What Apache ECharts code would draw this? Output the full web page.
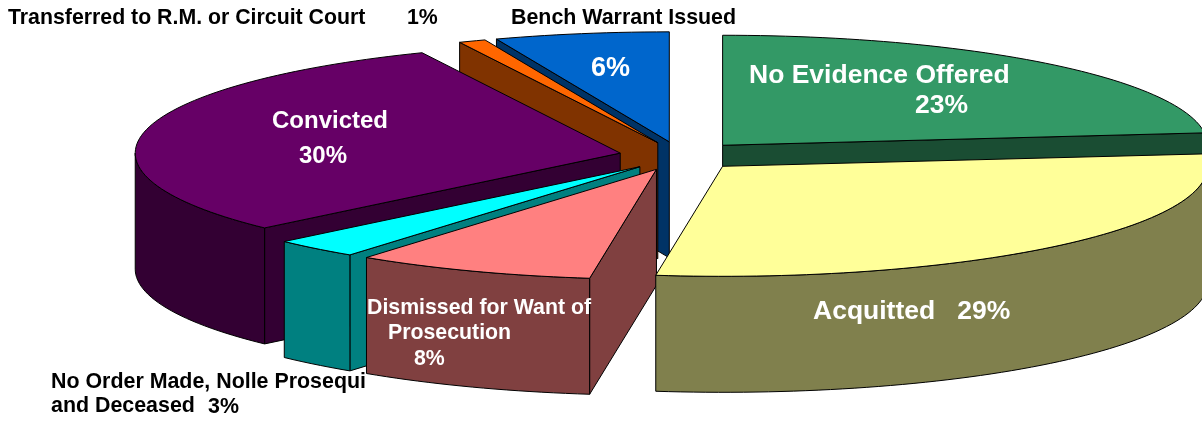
<!DOCTYPE html>
<html>
<head>
<meta charset="utf-8">
<style>html,body{margin:0;padding:0;background:#fff}#chart{width:1202px;height:421px}</style>
<script src="https://cdn.jsdelivr.net/npm/echarts@6/dist/echarts.min.js"></script>
</head>
<body>
<div id="chart"></div>
<script>
// Data, clockwise from 12 o'clock
const categories = ['No Evidence Offered', 'Acquitted', 'Dismissed for Want of Prosecution',
  'No Order Made, Nolle Prosequi and Deceased', 'Convicted', 'Transferred to R.M. or Circuit Court', 'Bench Warrant Issued'];
const values = [23.2, 29.0, 8.0, 2.9, 30.2, 0.9, 5.8];
const topColors = ['#339966', '#FFFF99', '#FF8080', '#00FFFF', '#660066', '#FF6600', '#0066CC'];
const sideColors = ['#1A4D33', '#80804D', '#804040', '#008080', '#330033', '#803300', '#003366'];
// Painter's order of the slices, back to front
const paintRank = [5, 6, 4, 3, 2, 1, 0];
// Horizontal explosion of each slice
const explodeX = [64, 61, 62, 60, 61, 58, 59];

// Labels: [slice, text, left x, middle y, font size, colour]
const labels = [
  [0, 'No Evidence Offered', 749, 76, 26.5, '#fff'],
  [0, '23%', 915, 106, 26.5, '#fff'],
  [1, 'Acquitted   29%', 813, 312, 26.5, '#fff'],
  [2, 'Dismissed for Want of', 367, 308, 21.3, '#fff'],
  [2, 'Prosecution', 388, 333, 21.3, '#fff'],
  [2, '8%', 414, 359, 21.3, '#fff'],
  [3, 'No Order Made, Nolle Prosequi', 51, 382, 21.4, '#000'],
  [3, 'and Deceased', 51, 406, 21.4, '#000'],
  [3, '3%', 208, 407, 21.4, '#000'],
  [4, 'Convicted', 272, 121, 24, '#fff'],
  [4, '30%', 299, 156, 24, '#fff'],
  [5, 'Transferred to R.M. or Circuit Court', 8, 18, 21.3, '#000'],
  [5, '1%', 407, 18, 21.3, '#000'],
  [6, 'Bench Warrant Issued', 511, 18, 21.4, '#000'],
  [6, '6%', 591, 69, 27, '#fff']
];

// Projection of the tilted pie
const CX = 680, CY = 156, RX = 485, RY = 110, DEPTH = 116, EXPLODE_Y = 14.4;
const FONT = 'bold SIZEpx "Liberation Sans", Arial, sans-serif';

const total = values.reduce((a, b) => a + b, 0);
const DEG = Math.PI / 180;

function arcPoints(c, a, b, dy) {
  const pts = [], n = Math.max(2, Math.ceil((b - a) / 1.5));
  for (let i = 0; i <= n; i++) {
    const t = (a + (b - a) * i / n) * DEG;
    pts.push([c[0] + RX * Math.sin(t), c[1] - RY * Math.cos(t) + dy]);
  }
  return pts;
}

function renderSlice(params, api) {
  const i = params.dataIndex;
  let before = 0;
  for (let k = 0; k < i; k++) before += api.value(1, k);
  const a = before / total * 360;
  const b = (before + api.value(1)) / total * 360;
  const mid = (a + b) / 2 * DEG;
  const c = [CX + explodeX[i] * Math.sin(mid), CY - EXPLODE_Y * Math.cos(mid)];
  const rank = paintRank[i] * 10;
  const top = topColors[i], side = sideColors[i];
  const lineStyle = { stroke: '#000', lineWidth: 1, lineJoin: 'round' };
  const poly = (points, fill, z) => ({
    type: 'polygon', z2: rank + z, shape: { points },
    style: Object.assign({ fill }, lineStyle)
  });
  const children = [];
  const rimAt = (t) => arcPoints(c, t, t, 0)[0];
  const under = (p) => [p[0], p[1] + DEPTH];
  // Straight walls that face the viewer
  if (Math.sin(a * DEG) < 0) {
    const r = rimAt(a);
    children.push(poly([c, r, under(r), under(c)], side, 1));
  }
  if (Math.sin(b * DEG) > 0) {
    const r = rimAt(b);
    children.push(poly([c, r, under(r), under(c)], side, 1));
  }
  // Curved outer wall, front half only
  const fa = Math.max(a, 90), fb = Math.min(b, 270);
  if (fb > fa) {
    const upper = arcPoints(c, fa, fb, 0);
    const lower = arcPoints(c, fa, fb, DEPTH).reverse();
    children.push(poly(upper.concat(lower), side, 2));
  }
  // Top face
  children.push(poly([c].concat(arcPoints(c, a, b, 0)), top, 3));
  // Labels
  labels.filter(l => l[0] === i).forEach(l => {
    children.push({
      type: 'text', z2: 500, silent: true,
      style: {
        text: l[1], x: l[2], y: l[3], fill: l[5],
        font: FONT.replace('SIZE', l[4]), textAlign: 'left', textVerticalAlign: 'middle'
      }
    });
  });
  return { type: 'group', children };
}

const chart = echarts.init(document.getElementById('chart'), null, { renderer: 'canvas' });
chart.setOption({
  animation: false,
  backgroundColor: '#fff',
  series: [{
    type: 'custom',
    coordinateSystem: 'none',
    renderItem: renderSlice,
    encode: { itemName: 0, value: 1 },
    data: categories.map((name, i) => [i, values[i]])
  }]
});
</script>
</body>
</html>
